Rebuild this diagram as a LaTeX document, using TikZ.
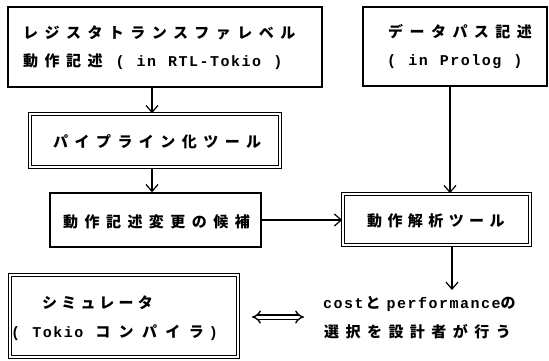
\documentclass[tikz,border=0pt]{standalone}
\usepackage{fontspec}
\usetikzlibrary{arrows.meta}
\newfontfamily\jp[LetterSpace=43]{Noto Sans CJK JP}
\newfontfamily\lt[LetterSpace=10,WordSpace=1.15]{Liberation Mono}
\begin{document}
\begin{tikzpicture}[x=1pt,y=-1pt,
  box/.style={draw, line width=1.4pt, inner sep=0pt},
  dbox/.style={draw, double, line width=1.1pt, double distance=1.6pt, inner sep=0pt},
  arr/.style={line width=1.2pt, -{Straight Barb[length=7pt,width=12pt,line width=1.2pt]}},
  darr/.style={double, line width=1.4pt, double distance=3pt, {Implies}-{Implies}},
  jt/.style={anchor=base west, inner sep=0pt, font=\fontsize{15pt}{15pt}\selectfont\jp\bfseries},
]
\useasboundingbox (0,0) rectangle (549,360);
% boxes
\node[box, minimum width=314pt, minimum height=80pt] (b1) at (165,47) {};
\node[box, minimum width=184pt, minimum height=79pt] (b2) at (455,46.5) {};
\node[dbox, minimum width=250.4pt, minimum height=53.4pt] (pipe) at (155,140.5) {};
\node[box, minimum width=211pt, minimum height=54pt] (cand) at (155.5,220) {};
\node[dbox, minimum width=187.4pt, minimum height=51.4pt] (anal) at (436.5,219.5) {};
\node[dbox, minimum width=228.4pt, minimum height=82.4pt] (sim) at (124,316) {};
% texts
\node[jt] (t1a) at (23,38.5) {レジスタトランスファレベル};
\node[jt] (t1b) at (23,66.5) {動作記述\hspace{13pt}{\lt ( in RTL-Tokio )}};
\node[jt] (t2a) at (388,37.5) {データパス記述};
\node[jt] (t2b) at (387,65.5) {\lt ( in Prolog )};
\node[jt] (tp) at (53,147.5) {パイプライン化ツール};
\node[jt] (tc) at (63,227.5) {動作記述変更の候補};
\node[jt] (ta) at (367,226.5) {\addfontfeature{LetterSpace=36}動作解析ツール};
\node[jt] (ts1) at (42,308.5) {\addfontfeature{LetterSpace=28}シミュレータ};
\node[jt] (ts2) at (11,337.5) {{\lt ( Tokio}\hspace{12pt}{\addfontfeature{LetterSpace=56}コンパイラ}\hspace{5pt}{\lt )}};
\node[jt] (tr1) at (323,308.5) {{\lt cost}\hspace{2pt}{\addfontfeature{LetterSpace=0}と}\hspace{6pt}{\lt performance}{\addfontfeature{LetterSpace=0}の}};
\node[jt] (tr2) at (324,337.5) {選択を設計者が行う};
% connectors
\coordinate (rtop) at (452,290);
\coordinate (dl) at (252,317);
\coordinate (dr) at (304,317);
\draw[arr] (152,0 |- b1.south) -- (152,0 |- pipe.north);
\draw[arr] (152,0 |- pipe.south) -- (152,0 |- cand.north);
\draw[arr] (450,0 |- b2.south) -- (450,0 |- anal.north);
\draw[arr] (cand.east) -- (anal.west |- cand.east);
\draw[arr] (452,0 |- anal.south) -- (rtop);
\draw[darr] (dl) -- (dr);
\end{tikzpicture}
\end{document}
